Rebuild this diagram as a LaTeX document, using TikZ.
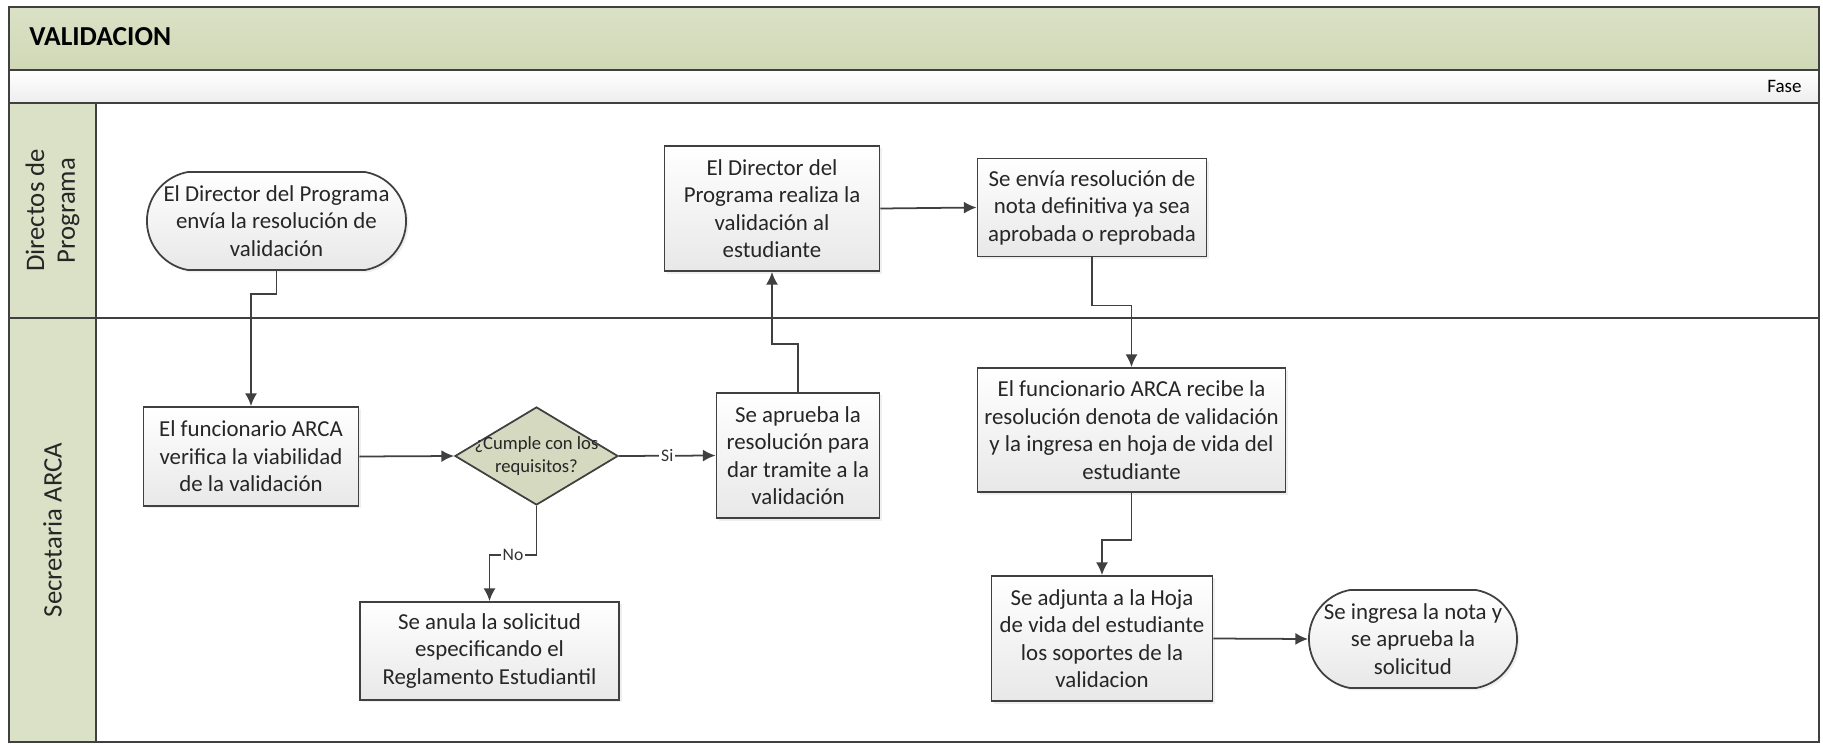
\documentclass[tikz,border=0pt]{standalone}
\usepackage{fontspec}
\setmainfont{Carlito}
\usetikzlibrary{arrows,arrows.meta,positioning,shapes.geometric,shapes.misc,shadows}

\definecolor{verdeCarril}{RGB}{218,225,198}
\definecolor{verdeOscuro}{RGB}{208,217,182}
\definecolor{grisLinea}{RGB}{64,64,64}
\definecolor{rellenoDec}{RGB}{212,217,191}

\tikzset{
  paso/.style={draw=grisLinea, line width=0.5pt, top color=white, bottom color=black!9,
    align=center, inner sep=0pt, text=black!85, font=\fontsize{6.5}{7.8}\selectfont,
    drop shadow={opacity=0.12, shadow xshift=0.7pt, shadow yshift=-0.7pt}},
  terminal/.style={paso, rounded rectangle, rounded rectangle arc length=160},
  decision/.style={diamond, draw=grisLinea, fill=rellenoDec, line width=0.5pt, inner sep=0pt},
  flecha/.style={draw=grisLinea, line width=0.5pt, -{Latex[length=3.6pt, width=3.4pt]}},
  rotulo/.style={fill=white, inner sep=0.6pt, text=black!80, font=\fontsize{5}{6}\selectfont},
  marco/.style={draw=grisLinea, line width=0.6pt},
  carril/.style={rotate=90, align=center, text=black!85, font=\fontsize{7.6}{8.8}\selectfont},
}

\begin{document}
\begin{tikzpicture}[x=0.01cm, y=-0.01cm]
            \fill[white] (0,0) rectangle (1823,745);
            \useasboundingbox (0,0) rectangle (1823,745);
            \shade[top color=verdeCarril, bottom color=verdeOscuro] (9,7) rectangle (1819,70);
            \shade[top color=white, bottom color=black!7] (9,70) rectangle (1819,103);
            \fill[verdeCarril] (9,103) rectangle (96,742);
            \draw[marco] (9,7) rectangle (1819,742);
            \draw[marco] (9,70) -- (1819,70);
            \draw[marco] (9,103) -- (1819,103);
            \draw[marco] (96,103) -- (96,742);
            \draw[marco] (9,318) -- (1819,318);

            \node[anchor=west, font=\bfseries\fontsize{7.8}{9}\selectfont] (titulo) at (17,37) {VALIDACION};
            \node[anchor=east, font=\fontsize{5.4}{6.5}\selectfont] (fase) at (1814,86) {Fase};
            \node[carril] (directos) at (52.5,210.5) {Directos de\\Programa};
            \node[carril] (secretaria) at (52.5,530) {Secretaria ARCA};

            \node[terminal, minimum width=2.59cm, minimum height=0.98cm] (inicio) at (276.5,221)
                {El Director del Programa\\envía la resolución de\\validación};
            \node[paso, minimum width=2.15cm, minimum height=0.99cm] (verifica) at (251,456.5)
                {El funcionario ARCA\\verifica la viabilidad\\de la validación};
            \node[decision, minimum width=1.63cm, minimum height=0.98cm,
                label={[align=center, text=black!85, font=\fontsize{5.3}{6.5}\selectfont]center:¿Cumple con los\\requisitos?}] (cumple) at (536.5,456) {};
            \node[paso, minimum width=2.59cm, minimum height=0.98cm] (anula) at (489.5,651)
                {Se anula la solicitud\\especificando el\\Reglamento Estudiantil};
            \node[paso, minimum width=1.63cm, minimum height=1.25cm] (aprueba) at (798,455.5)
                {Se aprueba la\\resolución para\\dar tramite a la\\validación};
            \node[paso, minimum width=2.15cm, minimum height=1.25cm] (realiza) at (772,208.5)
                {El Director del\\Programa realiza la\\validación al\\estudiante};
            \node[paso, minimum width=2.29cm, minimum height=0.98cm] (envia) at (1092,207.5)
                {Se envía resolución de\\nota definitiva ya sea\\aprobada o reprobada};
            \node[paso, minimum width=3.08cm, minimum height=1.24cm] (recibe) at (1131.5,430)
                {El funcionario ARCA recibe la\\resolución denota de validación\\y la ingresa en hoja de vida del\\estudiante};
            \node[paso, minimum width=2.21cm, minimum height=1.25cm] (adjunta) at (1102,638.5)
                {Se adjunta a la Hoja\\de vida del estudiante\\los soportes de la\\validacion};
            \node[terminal, minimum width=2.05cm, minimum height=0.98cm] (fin) at (1413,639)
                {Se ingresa la nota y\\se aprueba la\\solicitud};

            \draw[flecha] (inicio.south) -- ++(0,23) -| (verifica.north);
            \draw[flecha] (verifica.east) -- (cumple.west);
            \draw[flecha] (cumple.east) -- node[rotulo] {Si} (aprueba.west);
            \draw[flecha] (cumple.south) -- ++(0,49) -| node[rotulo, pos=0.25] {No} (anula.north);
            \draw[flecha] (aprueba.north) -- ++(0,-48) -| (realiza.south);
            \draw[flecha] (realiza.east) -- (envia.west);
            \draw[flecha] (envia.south) -- ++(0,48) -| (recibe.north);
            \draw[flecha] (recibe.south) -- ++(0,47) -| (adjunta.north);
            \draw[flecha] (adjunta.east) -- (fin.west);
        \end{tikzpicture}
\end{document}
